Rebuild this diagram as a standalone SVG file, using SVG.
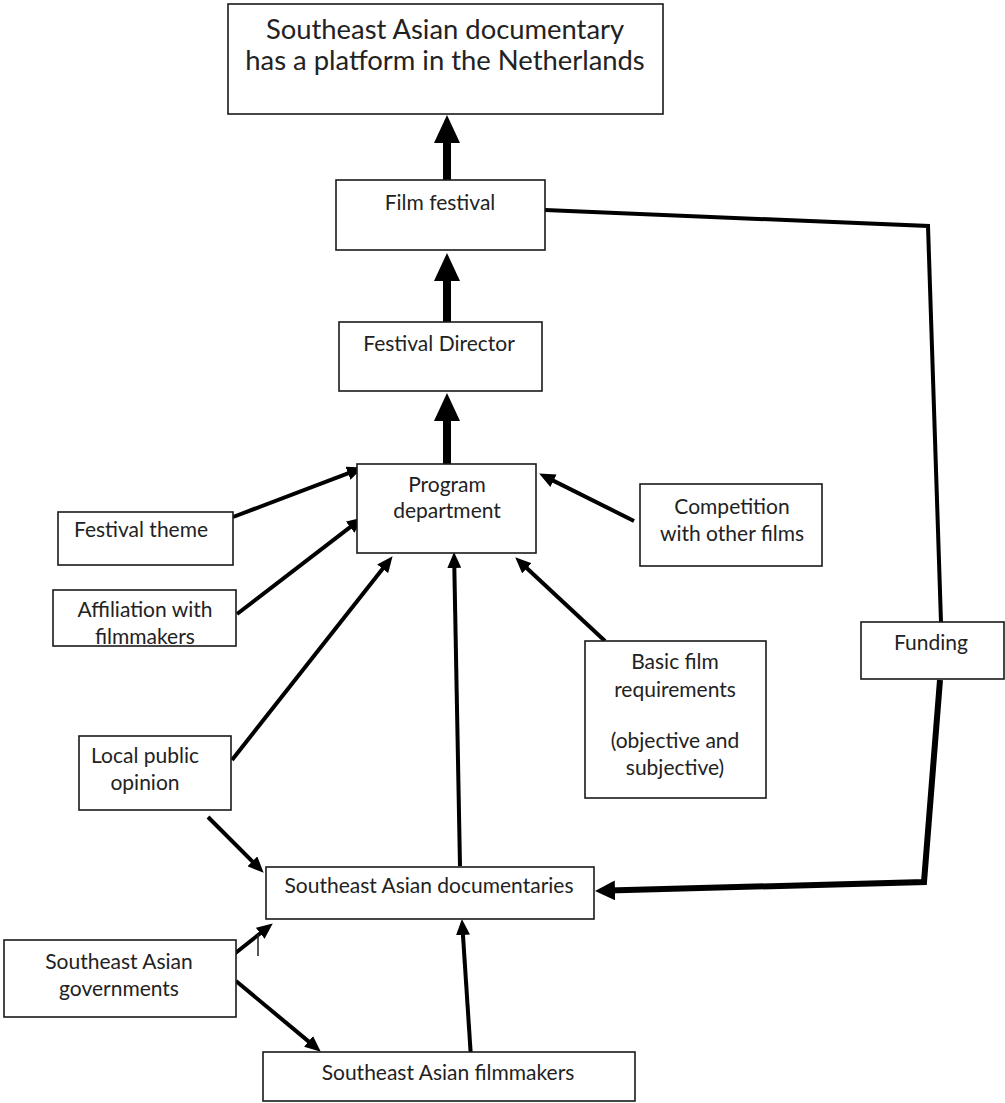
<svg xmlns="http://www.w3.org/2000/svg" width="1005" height="1103" viewBox="0 0 1005 1103">
<defs>
<style>
.box{fill:#fff;stroke:#1a1a1a;stroke-width:1.6}
.t{font-family:Lato,"Open Sans","Liberation Sans",sans-serif;font-size:21px;fill:#222;text-anchor:middle}
.big{font-size:27.4px}
.thin{stroke:#000;stroke-width:4;fill:none;marker-end:url(#ah)}
.thick{stroke:#000;stroke-width:8;fill:none;marker-end:url(#ahb)}
.fund{stroke:#000;fill:none;stroke-linejoin:miter}
</style>
<marker id="ah" markerUnits="userSpaceOnUse" markerWidth="16" markerHeight="14" refX="7" refY="7" orient="auto" viewBox="0 0 16 14">
<path d="M0,0 L16,7 L0,14 z" fill="#000"/>
</marker>
<marker id="ahb" markerUnits="userSpaceOnUse" markerWidth="28" markerHeight="26" refX="4" refY="13" orient="auto" viewBox="0 0 28 26">
<path d="M0,0 L28,13 L0,26 z" fill="#000"/>
</marker>
<marker id="ahf" markerUnits="userSpaceOnUse" markerWidth="20" markerHeight="20" refX="6" refY="10" orient="auto" viewBox="0 0 20 20">
<path d="M0,0 L20,10 L0,20 z" fill="#000"/>
</marker>
</defs>
<rect width="1005" height="1103" fill="#fff"/>

<g id="connectors">
<line class="thick" x1="447" y1="180" x2="447" y2="139"/>
<line class="thick" x1="447" y1="322" x2="447" y2="277"/>
<line class="thick" x1="447" y1="464" x2="447" y2="417"/>
<line class="thin" x1="233" y1="517" x2="354.5" y2="470.8"/>
<line class="thin" x1="237" y1="614" x2="355.7" y2="522.9"/>
<line class="thin" x1="232" y1="760" x2="387" y2="563.3"/>
<line class="thin" x1="634" y1="521" x2="547.2" y2="477.6"/>
<line class="thin" x1="605" y1="641" x2="521.8" y2="563.5"/>
<line class="thin" x1="208" y1="817" x2="257.3" y2="866.3"/>
<line class="thin" x1="460" y1="866" x2="454.2" y2="561"/>
<line class="thin" x1="233" y1="955" x2="265.7" y2="929"/>
<line class="thin" x1="236" y1="981" x2="313.9" y2="1045.9"/>
<line class="thin" x1="471" y1="1058" x2="462.5" y2="928"/>
<line x1="258" y1="934" x2="258" y2="956" stroke="#222" stroke-width="1.5"/>
<polyline class="fund" stroke-width="4" points="545,210 928,226 941,622"/>
<polyline class="fund" stroke-width="6" points="940,680 924,882 609,890.6" marker-end="url(#ahf)"/>
</g>

<g id="n-top"><rect class="box" x="228" y="4" width="435" height="110"/>
<text class="t big" x="445" y="39">Southeast Asian documentary</text>
<text class="t big" x="445" y="70">has a platform in the Netherlands</text></g>

<g id="n-festival"><rect class="box" x="336" y="180" width="209" height="70"/>
<text class="t" x="440" y="210">Film festival</text></g>

<g id="n-director"><rect class="box" x="339" y="322" width="203" height="69"/>
<text class="t" x="439" y="351">Festival Director</text></g>

<g id="n-program"><rect class="box" x="357" y="464" width="179" height="89"/>
<text class="t" x="447" y="492">Program</text>
<text class="t" x="447" y="518">department</text></g>

<g id="n-theme"><rect class="box" x="58" y="512" width="175" height="53"/>
<text class="t" x="141" y="537">Festival theme</text></g>

<g id="n-affiliation"><rect class="box" x="53" y="590" width="183" height="56"/>
<text class="t" x="145" y="617">Affiliation with</text>
<text class="t" x="145" y="644">filmmakers</text></g>

<g id="n-competition"><rect class="box" x="640" y="484" width="182" height="82"/>
<text class="t" x="732" y="514">Competition</text>
<text class="t" x="732" y="541">with other films</text></g>

<g id="n-basic"><rect class="box" x="585" y="641" width="181" height="157"/>
<text class="t" x="675" y="669">Basic film</text>
<text class="t" x="675" y="697">requirements</text>
<text class="t" x="675" y="748">(objective and</text>
<text class="t" x="675" y="775">subjective)</text></g>

<g id="n-funding"><rect class="box" x="861" y="622" width="143" height="57"/>
<text class="t" x="931" y="650">Funding</text></g>

<g id="n-opinion"><rect class="box" x="79" y="736" width="152" height="74"/>
<text class="t" x="145" y="763">Local public</text>
<text class="t" x="145" y="790">opinion</text></g>

<g id="n-docs"><rect class="box" x="266" y="867" width="328" height="52"/>
<text class="t" x="429" y="893">Southeast Asian documentaries</text></g>

<g id="n-gov"><rect class="box" x="4" y="940" width="232" height="77"/>
<text class="t" x="119" y="969">Southeast Asian</text>
<text class="t" x="119" y="996">governments</text></g>

<g id="n-filmmakers"><rect class="box" x="263" y="1052" width="372" height="49"/>
<text class="t" x="448" y="1080">Southeast Asian filmmakers</text></g>
</svg>
